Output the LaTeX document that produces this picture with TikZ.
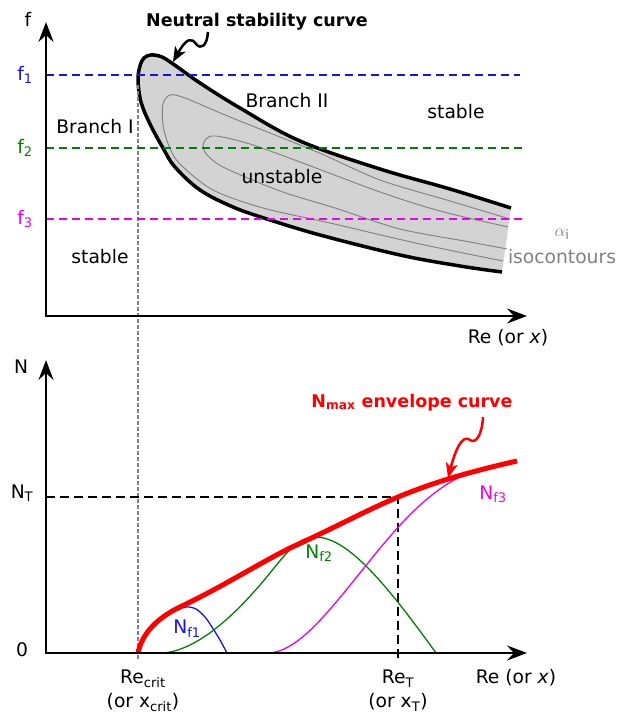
\documentclass[tikz,border=0pt]{standalone}
\usepackage{fontspec}
\setmainfont{DejaVu Sans}
\usetikzlibrary{arrows.meta}
\definecolor{shade}{RGB}{211,211,211}
\definecolor{dkgreen}{RGB}{0,128,0}
\definecolor{fuchsia}{RGB}{235,0,235}
\definecolor{dblue}{RGB}{20,20,235}

\begin{document}
\begin{tikzpicture}[x=1pt,y=-1pt,
  every node/.style={font=\fontsize{18.7}{24}\selectfont,inner sep=0pt,anchor=base},
  axis/.style={line width=2.8pt,{Stealth[length=20pt,width=15pt,inset=7pt]}-{Stealth[length=20pt,width=15pt,inset=7pt]}},
  level/.style={line width=1.6pt,dash pattern=on 8pt off 5pt},
  wiggle/.style={line width=2.5pt,-{Stealth[length=15pt,width=12pt,inset=4pt]}},
  gain/.style={line width=1.3pt}]
  \useasboundingbox (0,0) rectangle (616,717);
  % upper panel: stability diagram
  \coordinate (fO) at (46,316); \coordinate (fT) at (46,22); \coordinate (fR) at (527,316);
  \filldraw[fill=shade,line width=3.5pt] plot[smooth,tension=0.6] coordinates {(511,208) (450,189) (380,169) (300,141) (240,108) (200,83) (176,66) (162,57) (151,55) (144,58) (140,66) (138,80) (141,102) (150,124) (163,148) (175,167) (200,190) (233,207) (267,219) (320,235) (400,255) (460,266) (502,272)};
  \draw[gray,line width=0.9pt] plot[smooth] coordinates {(510,219) (450,201) (380,180) (317,152) (230,117) (185,98) (170,95) (163,104) (163,125) (169,146) (180,164) (213,190) (263,208) (330,223) (420,244) (503,261)};
  \draw[gray,line width=0.9pt] plot[smooth] coordinates {(508,227) (440,211) (380,192) (300,162) (250,144) (216,136) (206,139) (203,147) (208,156) (225,168) (280,191) (335,208) (400,229) (470,242) (507,249)};
  \draw[gray,line width=2pt,dash pattern=on 4pt off 2pt] (138,85) -- (138,660);
  \foreach \y/\c/\n/\e in {75/dblue/1/520,148/dkgreen/2/522,219/fuchsia/3/525}{
    \draw[level,\c] (46,\y) -- (\e,\y);
    \node[\c] (f\n) at (25,\y+5) {f\textsubscript{\n}};
  }
  \draw[axis] (fT) -- (fO) -- (fR);
  \node (flab) at (28,27) {f};
  \node (reup) at (508,343) {Re (or \textit{x})};
  \node[font=\fontsize{17.5}{21}\selectfont\bfseries] (nsc) at (257,27) {Neutral stability curve};
  \coordinate (nscA) at (208,32); \coordinate (nscB) at (173,62);
  \draw[wiggle] (nscA) .. controls (207,46) and (201,50) .. (196,44) .. controls (192,38) and (187,37) .. (nscB);
  \node (br1) at (95,133) {Branch I};
  \node (br2) at (287,107) {Branch II};
  \node (st1) at (456,118) {stable};
  \node (unst) at (282,183) {unstable};
  \node (st2) at (100,263) {stable};
  \node[gray] (alf) at (562,236) {$\alpha$\textsubscript{i}};
  \node[gray] (iso) at (562,263) {isocontours};
  % lower panel: amplification curves
  \coordinate (nO) at (46,653); \coordinate (nT) at (46,360); \coordinate (nR) at (527,653);
  \draw[line width=2.8pt,dash pattern=on 9pt off 5pt] (46,497) -- (398,497) -- (398,659);
  \draw[gain,dblue] plot[smooth] coordinates {(138,653) (140,643) (144,636) (150,629) (160,620) (172,612) (186,607) (196,609) (205,617) (212,627) (220,640) (227,653)};
  \draw[gain,dkgreen] (163,653) .. controls (200,650) and (240,610) .. (270,573) .. controls (290,548) and (300,537) .. (315,537) .. controls (345,537) and (380,575) .. (436,653);
  \draw[gain,fuchsia] (270,653) .. controls (300,650) and (330,610) .. (368,563) .. controls (400,523) and (440,476) .. (487,468);
  \draw[red,line width=5pt] (138,653) .. controls (141,638) and (152,620) .. (182,606) .. controls (220,588) and (260,563) .. (290,548) .. controls (330,530) and (365,511) .. (398,497) .. controls (430,484) and (460,474) .. (517,461);
  \draw[axis] (nT) -- (nO) -- (nR);
  \node (nlab) at (21,373) {N};
  \node (nt) at (22,498) {N\textsubscript{T}};
  \node (zero) at (22,656) {0};
  \node[dblue] (nf1) at (187,633) {N\textsubscript{f1}};
  \node[dkgreen] (nf2) at (319,558) {N\textsubscript{f2}};
  \node[fuchsia] (nf3) at (493,499) {N\textsubscript{f3}};
  \node[red,font=\fontsize{17.5}{21}\selectfont\bfseries] (nmax) at (412,407) {N\textsubscript{max} envelope curve};
  \coordinate (nmaxA) at (483,417); \coordinate (nmaxB) at (448,478);
  \draw[wiggle,red] (nmaxA) .. controls (482,435) and (476,444) .. (470,440) .. controls (465,436) and (458,440) .. (nmaxB);
  \node[align=center,anchor=north] (recrit) at (143,670) {Re\textsubscript{crit}\\(or x\textsubscript{crit})};
  \node[align=center,anchor=north] (ret) at (398,670) {Re\textsubscript{T}\\(or x\textsubscript{T})};
  \node (relow) at (516,683) {Re (or \textit{x})};
\end{tikzpicture}
\end{document}
